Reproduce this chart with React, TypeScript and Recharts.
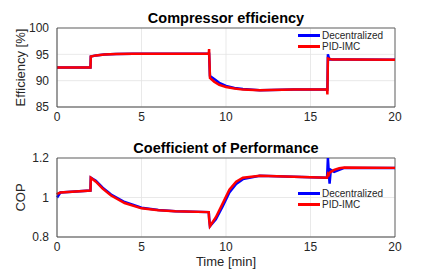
import { CartesianGrid, Line, LineChart, ReferenceLine, XAxis, YAxis } from 'recharts';

// time axis [min]
const timeTicks = [0, 5, 10, 15, 20];

// compressor efficiency [%]
const effTime = [0, 1.98, 2.0, 2.3, 2.8, 3.5, 4.5, 6, 8.98, 9.0, 9.05, 9.3, 9.6, 10, 10.5, 11, 12, 14, 15.98, 16.0, 16.03, 16.08, 16.15, 16.3, 17, 20];
const effDecentralized = [92.5, 92.5, 94.6, 94.8, 94.95, 95.05, 95.1, 95.1, 95.1, 95.1, 90.9, 90.3, 89.6, 89.0, 88.6, 88.4, 88.2, 88.3, 88.3, 88.3, 95.0, 94.4, 94.0, 94.0, 94.0, 93.95];
const effPidImc = [92.5, 92.5, 94.6, 94.8, 94.95, 95.05, 95.1, 95.1, 95.1, 96.0, 90.5, 89.8, 89.2, 88.8, 88.5, 88.3, 88.2, 88.3, 88.3, 87.4, 94.2, 94.15, 94.1, 94.0, 94.0, 93.95];
const effTicks = [85, 90, 95, 100];

// coefficient of performance
const copTime = [0, 0.05, 0.2, 1.98, 2.0, 2.3, 2.7, 3.2, 4, 5, 6, 7, 8.98, 9.0, 9.05, 9.4, 9.8, 10.2, 10.6, 11, 12, 14, 15.98, 16.03, 16.08, 16.13, 16.2, 16.4, 16.7, 17, 20];
const copDecentralized = [1.01, 1.005, 1.025, 1.035, 1.1, 1.085, 1.05, 1.015, 0.977, 0.948, 0.937, 0.931, 0.926, 0.9, 0.855, 0.89, 0.955, 1.025, 1.068, 1.093, 1.11, 1.105, 1.1, 1.2, 1.13, 1.07, 1.14, 1.13, 1.14, 1.15, 1.15];
const copPidImc = [1.015, 1.02, 1.025, 1.035, 1.1, 1.08, 1.045, 1.01, 0.972, 0.945, 0.935, 0.93, 0.926, 0.89, 0.855, 0.9, 0.97, 1.04, 1.08, 1.1, 1.11, 1.105, 1.1, 1.12, 1.115, 1.125, 1.13, 1.14, 1.148, 1.152, 1.15];
const copTicks = [0.8, 1, 1.2];

const seriesNames = ['Decentralized', 'PID-IMC'];

const effData = effTime.map((t, i) => ({ t, dec: effDecentralized[i], pid: effPidImc[i] }));
const copData = copTime.map((t, i) => ({ t, dec: copDecentralized[i], pid: copPidImc[i] }));

const FONT = '"Liberation Sans", Arial, Helvetica, sans-serif';
const TEXT = '#262626';
const BLUE = '#0000ff';
const RED = '#ff0000';
const colors = [BLUE, RED];

const tickStyle = { fontSize: 12, fill: TEXT, fontFamily: FONT };

// drawn outside the chart so it doesn't take space from the plot area
const LegendBox = ({ left, top }: { left: number; top: number }) => (
    <div style={{ position: 'absolute', left, top, fontFamily: FONT, fontSize: 10, color: TEXT, lineHeight: '11px' }}>
        {seriesNames.map((name, i) => (
            <div key={name} style={{ display: 'flex', alignItems: 'center' }}>
                <span style={{ display: 'inline-block', width: 22, height: 2.5, background: colors[i], marginRight: 2 }} />
                <span>{name}</span>
            </div>
        ))}
    </div>
);

const YLabel = (text: string) => (props: any) => {
    const { viewBox } = props;
    const cy = viewBox.y + viewBox.height / 2;
    const cx = 20;
    return (
        <text x={cx} y={cy} transform={`rotate(-90 ${cx} ${cy})`} textAnchor="middle" dominantBaseline="central"
            style={{ fontSize: 13, fill: TEXT, fontFamily: FONT }}>
            {text}
        </text>
    );
};

const Title = ({ top, children }: { top: number; children: string }) => (
    <div style={{ position: 'absolute', left: 57, width: 338, top, textAlign: 'center', fontFamily: FONT, fontWeight: 'bold', fontSize: 14.5, color: '#000', lineHeight: '16px' }}>
        {children}
    </div>
);

export default function App() {
    return (
        <div style={{ position: 'absolute', left: 0, top: 0, width: 436, height: 273, background: '#fff', fontFamily: FONT }}>
            <Title top={10}>Compressor efficiency</Title>
            <div style={{ position: 'absolute', left: 0, top: 0 }}>
                <LineChart width={436} height={135} data={effData} margin={{ top: 28, right: 41, bottom: 8, left: 20 }}>
                    <CartesianGrid stroke="#e3e3e3" strokeWidth={0.8} />
                    <XAxis dataKey="t" type="number" domain={[0, 20]} ticks={timeTicks} tick={tickStyle} tickLine={false}
                        tickSize={4} tickMargin={1} height={20} stroke="#444" interval={0} />
                    <YAxis type="number" domain={[85, 100]} ticks={effTicks} tick={tickStyle} tickLine={false} width={37}
                        stroke="#444" interval={0} label={YLabel('Efficiency [%]')} />
                    <ReferenceLine y={100} stroke="#666" strokeWidth={1} />
                    <ReferenceLine x={20} stroke="#666" strokeWidth={1} />
                    <Line dataKey="dec" name={seriesNames[0]} stroke={BLUE} strokeWidth={2.5} dot={false} isAnimationActive={false} />
                    <Line dataKey="pid" name={seriesNames[1]} stroke={RED} strokeWidth={2.5} dot={false} isAnimationActive={false} />
                </LineChart>
            </div>
            <LegendBox left={298} top={30} />
            <Title top={140}>Coefficient of Performance</Title>
            <div style={{ position: 'absolute', left: 0, top: 130 }}>
                <LineChart width={436} height={143} data={copData} margin={{ top: 28, right: 41, bottom: 16, left: 20 }}>
                    <CartesianGrid stroke="#e3e3e3" strokeWidth={0.8} />
                    <XAxis dataKey="t" type="number" domain={[0, 20]} ticks={timeTicks} tick={tickStyle} tickLine={false}
                        tickSize={4} tickMargin={1} height={20} stroke="#444" interval={0}
                        label={{ value: 'Time [min]', position: 'bottom', offset: 0, style: { fontSize: 13, fill: TEXT, fontFamily: FONT } }} />
                    <YAxis type="number" domain={[0.8, 1.2]} ticks={copTicks} tick={tickStyle} tickLine={false} width={37}
                        stroke="#444" interval={0} label={YLabel('COP')} />
                    <ReferenceLine y={1.2} stroke="#666" strokeWidth={1} />
                    <ReferenceLine x={20} stroke="#666" strokeWidth={1} />
                    <Line dataKey="dec" name={seriesNames[0]} stroke={BLUE} strokeWidth={2.5} dot={false} isAnimationActive={false} />
                    <Line dataKey="pid" name={seriesNames[1]} stroke={RED} strokeWidth={2.5} dot={false} isAnimationActive={false} />
                </LineChart>
            </div>
            <LegendBox left={298} top={188} />
        </div>
    );
}
